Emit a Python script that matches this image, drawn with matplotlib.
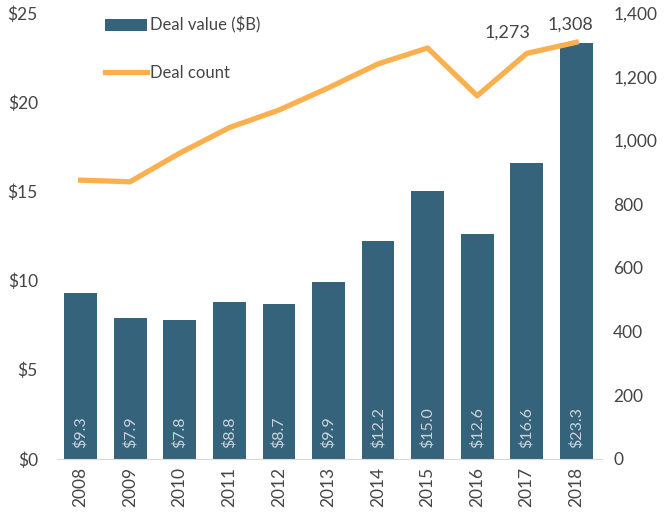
import numpy as np
import matplotlib
matplotlib.use("Agg")
import matplotlib.pyplot as plt
from matplotlib.ticker import FuncFormatter

plt.rcParams['font.family'] = ['Lato', 'DejaVu Sans']

years = ['2008', '2009', '2010', '2011', '2012', '2013', '2014', '2015', '2016', '2017', '2018']
deal_value = [9.3, 7.9, 7.8, 8.8, 8.7, 9.9, 12.2, 15.0, 12.6, 16.6, 23.3]
deal_count = [875, 870, 960, 1040, 1095, 1165, 1240, 1290, 1140, 1273, 1308]

bar_color = '#35637c'
line_color = '#fbb050'
text_color = '#454545'

fig = plt.figure(figsize=(6.66, 5.19), dpi=100)
ax = fig.add_axes([0.086, 0.116, 0.818, 0.859])
ax2 = ax.twinx()

x = np.arange(len(years))
bars = ax.bar(x, deal_value, width=0.66, color=bar_color, label='Deal value ($B)', zorder=2)
ax2.plot(x, deal_count, color=line_color, lw=3.8, label='Deal count', zorder=3)

for xi, v in zip(x, deal_value):
    ax.text(xi, 0.6, f'${v:.1f}', rotation=90, ha='center', va='bottom',
            color='#c9d3da', fontsize=11.5)

offsets = {9: (-14, 9), 10: (-4, 7)}
for i, off in offsets.items():
    ax2.annotate(f'{deal_count[i]:,}', (x[i], deal_count[i]), xytext=off,
                 textcoords='offset points', ha='center',
                 va='bottom', fontsize=13, color=text_color)

ax.set_xlim(-0.47, 10.52)
ax.set_ylim(0, 25)
ax2.set_ylim(0, 1400)
ax.set_yticks(np.arange(0, 26, 5))
ax2.set_yticks(np.arange(0, 1401, 200))
ax.yaxis.set_major_formatter(FuncFormatter(lambda v, p: f'${v:.0f}'))
ax2.yaxis.set_major_formatter(FuncFormatter(lambda v, p: f'{v:,.0f}'))
ax.set_xticks(x)
ax.set_xticklabels(years, rotation=90)

for a in (ax, ax2):
    for s in a.spines.values():
        s.set_visible(False)
    a.tick_params(length=0, labelsize=12.5, colors=text_color)
ax.spines['bottom'].set_visible(True)
ax.spines['bottom'].set_color('#d9d9d9')
ax.tick_params(axis='y', pad=14)
ax2.tick_params(axis='y', pad=8)
ax.tick_params(axis='x', pad=6)

h1, l1 = ax.get_legend_handles_labels()
h2, l2 = ax2.get_legend_handles_labels()
leg = ax2.legend(h1 + h2, l1 + l2, loc='upper left', bbox_to_anchor=(0.06, 1.025),
                 frameon=False, fontsize=12, labelspacing=1.85, handlelength=2.5,
                 handletextpad=0.2)
for t in leg.get_texts():
    t.set_color(text_color)

fig.savefig('out.png', dpi=100)
